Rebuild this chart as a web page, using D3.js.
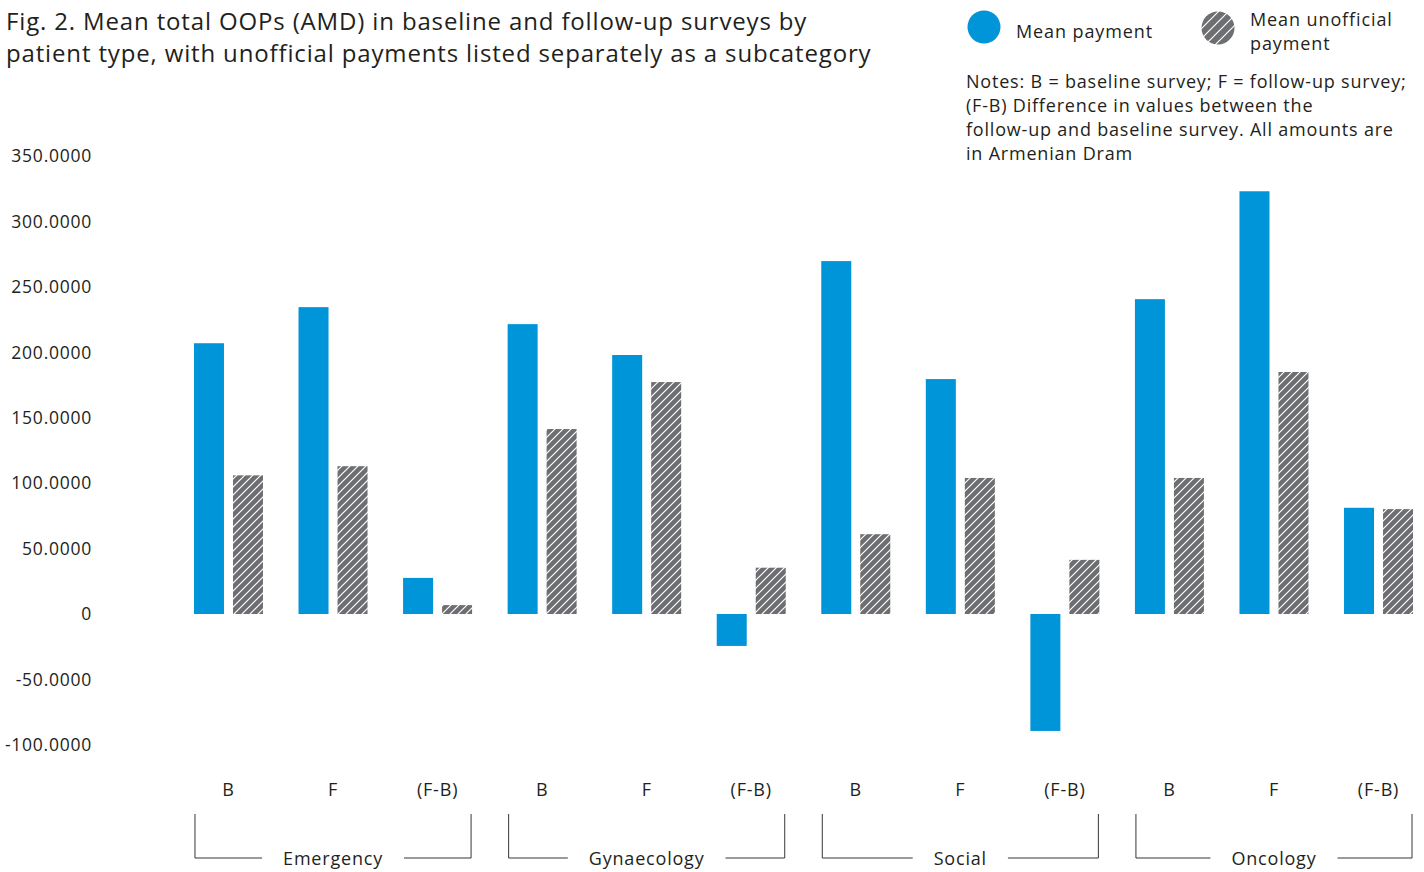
<!DOCTYPE html>
<html>
<head>
<meta charset="utf-8">
<script src="https://cdn.jsdelivr.net/npm/d3@7"></script>
<style>
  html, body { margin: 0; padding: 0; background: #fff; }
  svg { display: block; font-family: "Open Sans", "Noto Sans", sans-serif; }
</style>
</head>
<body>
<svg id="chart" width="1424" height="872"></svg>
<script>
// Patient types, each with baseline, follow-up and difference columns
const groups = ["Emergency", "Gynaecology", "Social", "Oncology"];
const surveys = ["B", "F", "(F-B)"];
// Mean total out-of-pocket payment (AMD), in group order B, F, (F-B)
const meanPayment = [207, 234.6, 27.6, 221.6, 198, -24.4, 269.8, 179.6, -89.4, 240.7, 323.2, 81.2];
// Mean unofficial payment (AMD), same order
const meanUnofficial = [106, 113, 6.8, 141.4, 177.3, 35.4, 61, 104, 41.4, 104, 185, 80.2];
const yTicks = [-100, -50, 0, 50, 100, 150, 200, 250, 300, 350];

const titleLines = [
  "Fig. 2. Mean total OOPs (AMD) in baseline and follow-up surveys by",
  "patient type, with unofficial payments listed separately as a subcategory"
];
const noteLines = [
  "Notes: B = baseline survey; F = follow-up survey;",
  "(F-B) Difference in values between the",
  "follow-up and baseline survey. All amounts are",
  "in Armenian Dram"
];

const BLUE = "#0094d8";
const GREY = "#6d6e71";
const INK = "#231f20";
const BODY_SIZE = "18px";
const BODY_TRACK = "0.8px";

const svg = d3.select("#chart");

// hatch fill for the unofficial-payment bars
const defs = svg.append("defs");
function hatch(id, size) {
  const p = defs.append("pattern")
    .attr("id", id)
    .attr("patternUnits", "userSpaceOnUse")
    .attr("width", size).attr("height", size);
  p.append("rect").attr("width", size).attr("height", size).attr("fill", GREY);
  p.append("path")
    .attr("d", `M0,${size} L${size},0 M${-size / 2},${size / 2} L${size / 2},${-size / 2} M${size / 2},${size * 1.5} L${size * 1.5},${size / 2}`)
    .attr("stroke", "#fff").attr("stroke-width", 1.2);
}
hatch("hatch", 8);
hatch("hatchLegend", 10);

// one slot per (group, survey) column
const slots = [];
groups.forEach(g => surveys.forEach(s => slots.push({ group: g, survey: s, key: g + "|" + s })));
slots.forEach((d, i) => { d.pay = meanPayment[i]; d.unoff = meanUnofficial[i]; });

const x = d3.scaleBand()
  .domain(slots.map(d => d.key))
  .range([176.2, 1430.8])
  .paddingInner(0).paddingOuter(0);

const y = d3.scaleLinear().domain([-100, 350]).range([744.8, 156.2]);

const barW = 30, gap = 9;
const cx = d => x(d.key) + x.bandwidth() / 2;

// y axis labels only (no line, no ticks)
const yAxis = d3.axisLeft(y)
  .tickValues(yTicks)
  .tickSize(0)
  .tickPadding(0)
  .tickFormat(v => v === 0 ? "0" : v.toFixed(4));
const ya = svg.append("g").attr("transform", "translate(92,0)").call(yAxis);
ya.select(".domain").remove();
ya.selectAll("text")
  .attr("fill", INK)
  .style("font-family", "'Open Sans', sans-serif")
  .style("font-size", "17.5px")
  .style("letter-spacing", "0.75px");

// bars
const bars = svg.append("g");
bars.selectAll("rect.pay").data(slots).join("rect")
  .attr("class", "pay")
  .attr("x", d => cx(d) - gap / 2 - barW)
  .attr("width", barW)
  .attr("y", d => y(Math.max(0, d.pay)))
  .attr("height", d => Math.abs(y(d.pay) - y(0)))
  .attr("fill", BLUE);
bars.selectAll("rect.unoff").data(slots).join("rect")
  .attr("class", "unoff")
  .attr("x", d => cx(d) + gap / 2)
  .attr("width", barW)
  .attr("y", d => y(Math.max(0, d.unoff)))
  .attr("height", d => Math.abs(y(d.unoff) - y(0)))
  .attr("fill", "url(#hatch)");

// survey labels under each column
const xAxis = d3.axisBottom(x).tickSize(0).tickPadding(0).tickFormat(k => k.split("|")[1]);
const xa = svg.append("g").attr("transform", "translate(0,783)").call(xAxis);
xa.select(".domain").remove();
xa.selectAll("text")
  .attr("fill", INK)
  .style("font-family", "'Open Sans', sans-serif")
  .style("font-size", BODY_SIZE)
  .style("letter-spacing", BODY_TRACK);

// group brackets with labels
const br = svg.append("g");
groups.forEach(g => {
  const first = slots.find(d => d.group === g && d.survey === surveys[0]);
  const last = slots.find(d => d.group === g && d.survey === surveys[surveys.length - 1]);
  const x0 = cx(first) - gap / 2 - barW + 1;
  const x1 = cx(last) + gap / 2 + barW - 1;
  const mid = (x0 + x1) / 2;
  const t = br.append("text")
    .attr("x", mid).attr("y", 865)
    .attr("text-anchor", "middle")
    .attr("fill", INK)
    .style("font-size", BODY_SIZE)
    .style("letter-spacing", BODY_TRACK)
    .text(g);
  const half = t.node().getComputedTextLength() / 2 + 21;
  br.append("path")
    .attr("d", `M${x0},814 V858 H${mid - half} M${mid + half},858 H${x1} V814`)
    .attr("fill", "none")
    .attr("stroke", INK)
    .attr("stroke-width", 0.9);
});

// title
svg.append("g").selectAll("text").data(titleLines).join("text")
  .attr("x", 6)
  .attr("y", (d, i) => 30 + i * 32)
  .attr("fill", INK)
  .style("font-size", "24px")
  .style("letter-spacing", "0.85px")
  .text(d => d);

// legend
const lg = svg.append("g")
  .style("font-size", BODY_SIZE)
  .style("letter-spacing", "0.9px");
lg.append("circle").attr("cx", 984).attr("cy", 27).attr("r", 16.5).attr("fill", BLUE);
lg.append("text").attr("x", 1016).attr("y", 38).attr("fill", INK).text("Mean payment");
lg.append("circle").attr("cx", 1218).attr("cy", 28).attr("r", 16.5).attr("fill", "url(#hatchLegend)");
lg.append("text").attr("x", 1250).attr("y", 26).attr("fill", INK).text("Mean unofficial");
lg.append("text").attr("x", 1250).attr("y", 50).attr("fill", INK).text("payment");

// notes
svg.append("g").selectAll("text").data(noteLines).join("text")
  .attr("x", 966)
  .attr("y", (d, i) => 88 + i * 24)
  .attr("fill", INK)
  .style("font-size", BODY_SIZE)
  .style("letter-spacing", BODY_TRACK)
  .text(d => d);
</script>
</body>
</html>
